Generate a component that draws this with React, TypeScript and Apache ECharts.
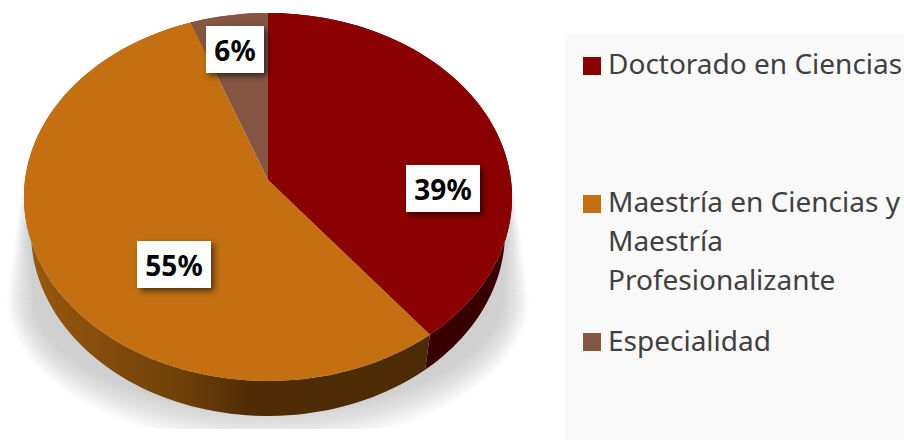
import React, { useEffect, useRef } from "react";
import * as echarts from "echarts";

const categories = ["Doctorado en Ciencias", "Maestría en Ciencias y Maestría Profesionalizante", "Especialidad"];
const legendLines = ["Doctorado en Ciencias", "Maestría en Ciencias y\nMaestría\nProfesionalizante", "Especialidad"];
const values = [39.4, 55.0, 5.6];
const labels = ["39%", "55%", "6%"];
const colors = ["#8B0000", "#C47012", "#875642"];

// layout of the tilted disc
const CX = 268, AY = 180, K = -0.0924, A = 182.4, B = 243, DEPTH = 35, B2 = 236;
const boxes = [
  { x: 406, y: 165, w: 74, h: 47 },
  { x: 137, y: 241, w: 74, h: 47 },
  { x: 206, y: 26, w: 58, h: 47 },
];
const legendTops = [43.5, 181.5, 320.5];
const legendIcons = [
  "path://M0 13.5H18V31.5H0Z M0 0V39Z",
  "path://M0 13.5H18V31.5H0Z M0 0V117Z",
  "path://M0 12.5H18V30.5H0Z M0 0V39Z",
];

const total = values.reduce((a, b) => a + b, 0);
const rim = (pct: number, b: number, dy: number) => {
  const t = (pct / total) * Math.PI * 2;
  const u = Math.sin(t), v = -Math.cos(t);
  const d = 1 + K * v;
  return [CX + (b * u) / d, AY + dy + (A * v) / d];
};
const arc = (from: number, to: number, b: number, dy: number) => {
  const n = Math.max(2, Math.ceil((to - from) * 2));
  const out: number[][] = [];
  for (let i = 0; i <= n; i++) out.push(rim(from + ((to - from) * i) / n, b, dy));
  return out;
};

const wallFills: any[] = [
  "#380000",
  new echarts.graphic.LinearGradient(
    24, 0, 512, 0,
    [
      { offset: 0, color: "#985A0E" },
      { offset: 0.2, color: "#80490B" },
      { offset: 0.33, color: "#6E4009" },
      { offset: 0.46, color: "#4F2C05" },
      { offset: 1, color: "#4A2A05" },
    ],
    true
  ),
  "#5a3a2a",
];

const renderSlice = (index: number) => (_: any, api: any) => {
  const val = api.value(0);
  const start = values.slice(0, index).reduce((a, b) => a + b, 0);
  const end = start + val;
  const top = arc(start, end, B, 0);
  const bottom = arc(start, end, B2, DEPTH).reverse();
  const box = boxes[index];
  return {
    type: "group",
    children: [
      { type: "polygon", z2: 1, shape: { points: [...top, ...bottom] }, style: { fill: wallFills[index] } },
      { type: "polygon", z2: 5, shape: { points: [[CX, AY], ...top] }, style: { fill: colors[index] } },
      {
        type: "rect", z2: 10,
        shape: { x: box.x, y: box.y, width: box.w, height: box.h },
        style: { fill: "#fff", shadowBlur: 6, shadowOffsetX: 3, shadowOffsetY: 3, shadowColor: "rgba(0,0,0,0.6)" },
      },
      {
        type: "text", z2: 11,
        style: {
          text: labels[index], x: box.x + box.w / 2, y: box.y + box.h / 2,
          align: "center", verticalAlign: "middle",
          font: 'bold 28px "Noto Sans"', fill: "#000",
        },
      },
    ],
  };
};

const shadowLayers = () => {
  const N = 20;
  const out: any[] = [];
  const fill = new echarts.graphic.LinearGradient(
    0, 165, 0, 225,
    [
      { offset: 0, color: "rgba(0,0,0,0)" },
      { offset: 1, color: "rgba(0,0,0,0.011)" },
    ],
    true
  );
  for (let i = 0; i < N; i++) {
    const t = i / (N - 1);
    const rx = 261 - 26 * t, ry = 148 - 36 * t, cy = 298;
    const pts: number[][] = [[25, 165]];
    for (let a = 180; a >= 0; a -= 5) {
      const r = (a * Math.PI) / 180;
      pts.push([268 + rx * Math.cos(r), Math.min(429, cy + ry * Math.sin(r))]);
    }
    pts.push([511, 165]);
    out.push({
      type: "polygon", z: 1, silent: true,
      shape: { points: pts },
      style: { fill },
    });
  }
  return out;
};

export default function App() {
  const ref = useRef<HTMLDivElement>(null);
  useEffect(() => {
    document.body.style.margin = "0";
    const chart = echarts.init(ref.current!, undefined, { renderer: "svg" });
    const textStyle = { fontFamily: "Noto Sans", fontSize: 28, color: "#404040", lineHeight: 39, padding: [0, 0, 0, 2] };
    chart.setOption({
      animation: false,
      backgroundColor: "#fff",
      graphic: [
        { type: "rect", z: 0, silent: true, shape: { x: 565, y: 34, width: 339, height: 406 }, style: { fill: "#F9F9F9" } },
        ...shadowLayers(),
      ],
      legend: categories.map((c, i) => ({
        data: [c],
        left: 583,
        top: legendTops[i],
        orient: "vertical",
        padding: 0,
        selectedMode: false,
        itemWidth: 18,
        itemHeight: i === 1 ? 117 : 39,
        icon: legendIcons[i],
        itemStyle: { borderWidth: 0 },
        formatter: () => legendLines[i],
        textStyle,
      })),
      series: categories.map((c, i) => ({
        type: "custom",
        name: c,
        coordinateSystem: "none",
        z: 3,
        silent: true,
        clip: false,
        color: colors[i],
        itemStyle: { color: colors[i] },
        data: [[values[i]]],
        renderItem: renderSlice(i),
      })),
    });
    return () => chart.dispose();
  }, []);
  return <div ref={ref} style={{ width: 904, height: 440 }} />;
}
